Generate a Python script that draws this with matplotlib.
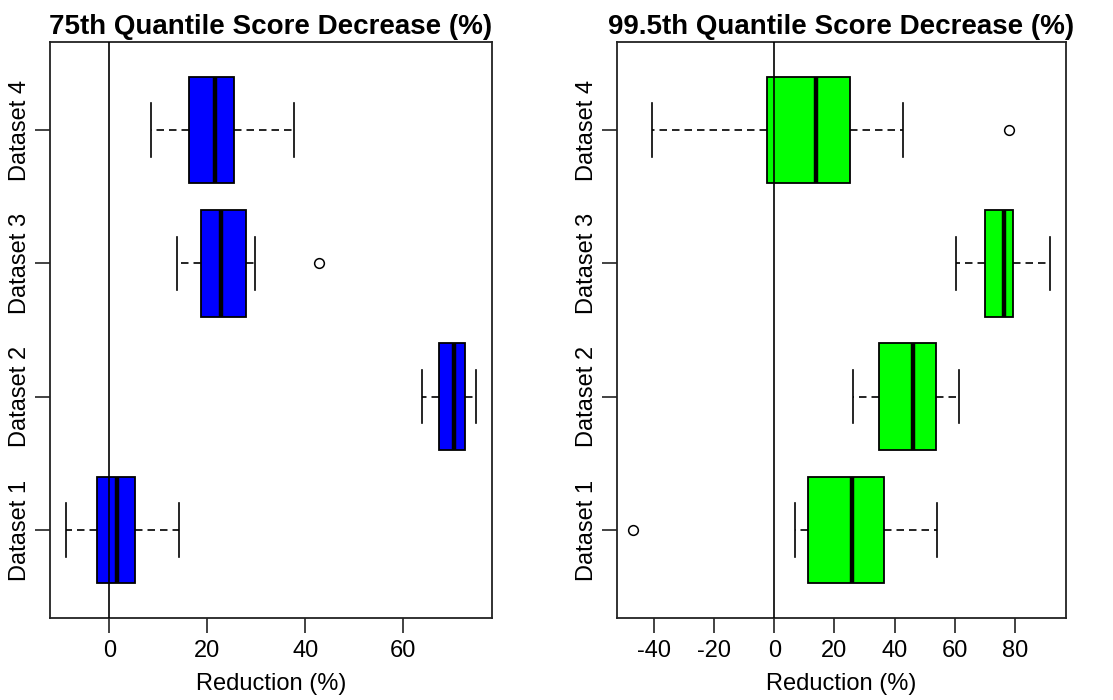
import matplotlib
matplotlib.use("Agg")
import matplotlib.pyplot as plt

plt.rcParams["font.family"] = ["Liberation Sans", "DejaVu Sans"]

datasets = ["Dataset 1", "Dataset 2", "Dataset 3", "Dataset 4"]

# 75th quantile score decrease (%)
q75_whislo = [-8.8, 63.8, 13.9, 8.4]
q75_q1 = [-2.6, 67.3, 18.8, 16.3]
q75_med = [1.5, 70.3, 22.7, 21.6]
q75_q3 = [5.2, 72.6, 27.8, 25.4]
q75_whishi = [14.2, 74.8, 29.7, 37.6]
q75_fliers = [[], [], [42.9], []]

# 99.5th quantile score decrease (%)
q995_whislo = [6.9, 26.2, 60.3, -40.7]
q995_q1 = [11.3, 34.8, 69.9, -2.4]
q995_med = [25.7, 46.0, 76.5, 13.9]
q995_q3 = [36.4, 53.8, 79.2, 25.1]
q995_whishi = [54.2, 61.3, 91.5, 42.8]
q995_fliers = [[-46.8], [], [], [78.1]]

panels = [
    ("75th Quantile Score Decrease (%)", "#0000FF",
     q75_whislo, q75_q1, q75_med, q75_q3, q75_whishi, q75_fliers, [0, 20, 40, 60]),
    ("99.5th Quantile Score Decrease (%)", "#00FF00",
     q995_whislo, q995_q1, q995_med, q995_q3, q995_whishi, q995_fliers,
     [-40, -20, 0, 20, 40, 60, 80]),
]

W, H = 1113, 700
fig = plt.figure(figsize=(W / 100, H / 100), dpi=100)
boxes_px = [(50, 42, 492, 618), (616.7, 42, 1066.3, 618)]

for (title, color, wlo, q1, med, q3, whi, fl, xt), (x0, y0, x1, y1) in zip(panels, boxes_px):
    ax = fig.add_axes([x0 / W, 1 - y1 / H, (x1 - x0) / W, (y1 - y0) / H])
    stats = []
    for i in range(len(datasets)):
        stats.append(dict(med=med[i], q1=q1[i], q3=q3[i],
                          whislo=wlo[i], whishi=whi[i], fliers=fl[i]))
    ax.bxp(stats, positions=range(1, len(datasets) + 1), widths=0.8,
           capwidths=0.4, orientation="horizontal", patch_artist=True,
           boxprops=dict(facecolor=color, edgecolor="black", linewidth=1.3),
           medianprops=dict(color="black", linewidth=3.2, solid_capstyle="butt"),
           whiskerprops=dict(color="black", linewidth=1.2, linestyle=(0, (4.5, 3))),
           capprops=dict(color="black", linewidth=1.2),
           flierprops=dict(marker="o", markerfacecolor="none",
                           markeredgecolor="black", markersize=7,
                           markeredgewidth=1.1))
    ax.axvline(0, color="black", linewidth=1.2, zorder=10)

    allv = wlo + whi + [v for f in fl for v in f]
    lo, hi = min(allv), max(allv)
    pad = 0.04 * (hi - lo)
    ax.set_xlim(lo - pad, hi + pad)
    ax.set_ylim(0.34, 4.66)

    ax.set_xticks(xt)
    ax.set_xticklabels([str(v) for v in xt], fontsize=17)
    ax.set_yticks(range(1, len(datasets) + 1))
    ax.set_yticklabels(datasets, rotation=90, va="center", fontsize=17)
    ax.tick_params(axis="both", length=10.8, width=1.2, color="#222222")
    ax.tick_params(axis="x", pad=5)
    ax.tick_params(axis="y", pad=3)
    for s in ax.spines.values():
        s.set_linewidth(1.3)
        s.set_color("#222222")
    ax.set_xlabel("Reduction (%)", fontsize=17, labelpad=8)
    ax.set_title(title, fontsize=20, fontweight="bold", pad=6)

fig.savefig("out.png", dpi=100)
